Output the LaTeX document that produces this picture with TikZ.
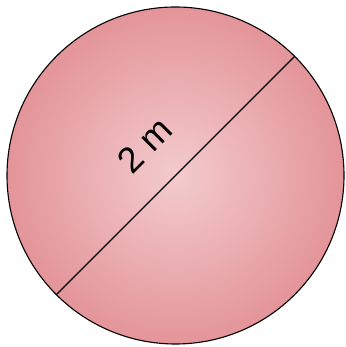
\documentclass[tikz,border=0pt]{standalone}
\usepackage{fontspec}
\setmainfont{Liberation Sans}
\usetikzlibrary{calc}
\definecolor{ballin}{RGB}{243,203,206}
\definecolor{ballout}{RGB}{218,116,120}
\pgfdeclareradialshading{ballglow}{\pgfpoint{0bp}{0bp}}{color(0bp)=(ballin); color(40bp)=(ballout); color(50bp)=(ballout)}

\begin{document}
\begin{tikzpicture}[x=1pt, y=1pt]
        \useasboundingbox (0,0) rectangle (345,347);
        \coordinate (c) at (175.5,171.5);
        \draw[line width=1.1pt, shading=ballglow] (c) circle (168.5);
        \coordinate (d1) at ($(c)+(225:168.5)$);
        \coordinate (d2) at ($(c)+(45:168.5)$);
        \draw[line width=1.1pt] (d1) -- (d2);
        \node[rotate=45, inner sep=0pt] (lbl) at ($(c)+(135:43)$) {\fontsize{36}{42}\selectfont 2 m};
      \end{tikzpicture}
\end{document}
